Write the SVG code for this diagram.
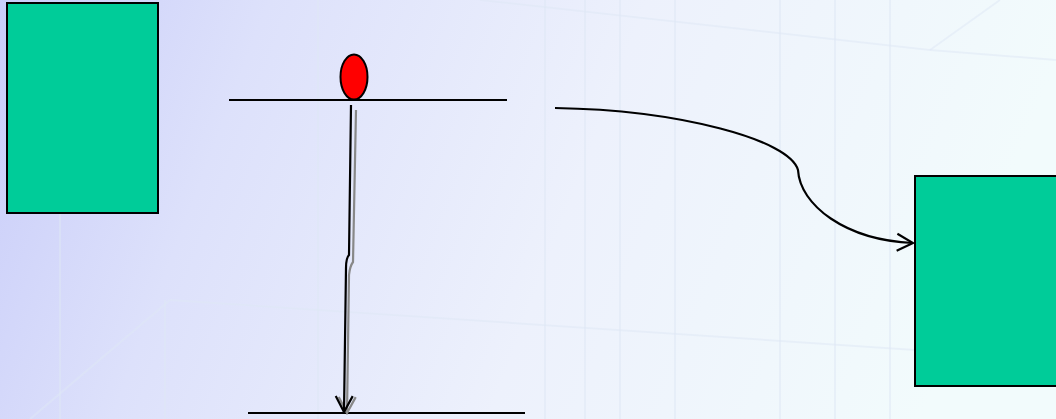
<svg xmlns="http://www.w3.org/2000/svg" width="1056" height="419" viewBox="0 0 1056 419">
<defs>
<linearGradient id="bg" x1="0" y1="0" x2="1" y2="0.15">
<stop offset="0" stop-color="#c9cdf9"/>
<stop offset="0.25" stop-color="#dde1fb"/>
<stop offset="0.6" stop-color="#edf1fc"/>
<stop offset="1" stop-color="#f2fbfc"/>
</linearGradient>
<marker id="ah" viewBox="0 0 20 20" refX="18" refY="10" markerWidth="20" markerHeight="20" markerUnits="userSpaceOnUse" orient="auto">
<path d="M2,1.5 L18,10 L2,18.5" fill="none" stroke="#000" stroke-width="2.2"/>
</marker>
<marker id="ahg" viewBox="0 0 20 20" refX="18" refY="10" markerWidth="20" markerHeight="20" markerUnits="userSpaceOnUse" orient="auto">
<path d="M2,1.5 L18,10 L2,18.5" fill="none" stroke="#888" stroke-width="2.2"/>
</marker>
</defs>
<style>
.box{fill:#00cc99;stroke:#000;stroke-width:2}
.ln{stroke:#000;stroke-width:2.2;fill:none}
.grid{stroke:#dfe8f6;stroke-width:2;opacity:0.5}
</style>
<rect width="1056" height="419" fill="url(#bg)"/>
<g id="background-grid">
<line class="grid" x1="60" y1="210" x2="60" y2="419"/>
<line class="grid" x1="165" y1="300" x2="165" y2="419"/>
<line class="grid" x1="318" y1="0" x2="318" y2="419"/>
<line class="grid" x1="545" y1="0" x2="545" y2="419"/>
<line class="grid" x1="585" y1="0" x2="585" y2="419"/>
<line class="grid" x1="620" y1="0" x2="620" y2="419"/>
<line class="grid" x1="675" y1="0" x2="675" y2="419"/>
<line class="grid" x1="780" y1="0" x2="780" y2="419"/>
<line class="grid" x1="835" y1="0" x2="835" y2="419"/>
<line class="grid" x1="890" y1="0" x2="890" y2="419"/>
<line class="grid" x1="170" y1="300" x2="915" y2="350"/>
<line class="grid" x1="170" y1="300" x2="30" y2="419"/>
<line class="grid" x1="480" y1="0" x2="930" y2="50"/>
<line class="grid" x1="930" y1="50" x2="1000" y2="0"/>
<line class="grid" x1="930" y1="50" x2="1056" y2="60"/>
</g>
<g id="left-box"><rect class="box" x="7" y="3" width="151" height="210"/></g>
<g id="right-box"><rect class="box" x="915" y="176" width="145" height="210"/></g>
<g id="top-line"><line class="ln" x1="229" y1="100" x2="507" y2="100"/></g>
<g id="bottom-line"><line class="ln" x1="248" y1="413" x2="525" y2="413"/></g>
<g id="ball"><ellipse cx="354" cy="77" rx="13.5" ry="22.5" fill="#ff0000" stroke="#000" stroke-width="2"/></g>
<g id="connectors">
<path d="M356,110 L353,262 Q350,266 349,275 L347,413" stroke="#888" stroke-width="2.2" fill="none" marker-end="url(#ahg)"/>
<path d="M351,105 L349,255 Q346,258 346,268 L344,412" class="ln" marker-end="url(#ah)"/>
<path d="M555,108 C680,110 790,140 798,170 C800,205 845,240 913,243" class="ln" marker-end="url(#ah)"/>
</g>
</svg>
